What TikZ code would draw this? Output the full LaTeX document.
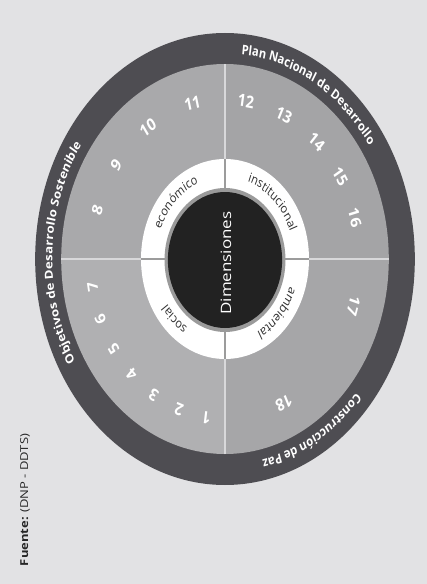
\documentclass[tikz,border=0pt]{standalone}
\usepackage{fontspec}
\setmainfont{Open Sans}
\usetikzlibrary{decorations.text}
\definecolor{bg}{HTML}{E2E2E4}
\definecolor{ringc}{HTML}{4E4D52}
\definecolor{qa}{HTML}{A9A9AB}
\definecolor{qb}{HTML}{A4A4A6}
\definecolor{qc}{HTML}{B0B0B2}
\definecolor{qd}{HTML}{A6A6A8}
\definecolor{core}{HTML}{222222}
\definecolor{corering}{HTML}{9A9A9A}
\definecolor{divl}{HTML}{D8D8DA}
\definecolor{divw}{HTML}{9C9C9C}
\definecolor{dimtext}{HTML}{2E2E2E}
\newcommand{\ringfont}{\color{white}\fontsize{13.3}{14}\selectfont\bfseries}
\newcommand{\dimfont}{\color{dimtext}\fontsize{13}{13}\selectfont}
\begin{document}
\begin{tikzpicture}[x=1pt,y=1pt,
  num/.style={text=white, font=\fontsize{17}{17}\selectfont\bfseries, inner sep=0pt},
  arctext/.style={decorate, decoration={text along path, text align=center, text format delimiters={|}{|}, text={#1}}},
  divider/.style={divl, line width=1.3pt},
  wdivider/.style={divw, line width=2.8pt}]
\useasboundingbox (-225,-325) rectangle (202,259);
\fill[bg] (-225,-325) rectangle (202,259);
\begin{scope}[transform canvas={xscale=0.84}]
% outer dark ring
\fill[ringc] (0,0) circle[radius=226pt];
% quadrants
\fill[qb] (0,0) -- (195pt,0) arc[start angle=0,end angle=90,radius=195pt] -- cycle;
\fill[qa] (0,0) -- (0,195pt) arc[start angle=90,end angle=180,radius=195pt] -- cycle;
\fill[qc] (0,0) -- (-195pt,0) arc[start angle=180,end angle=270,radius=195pt] -- cycle;
\fill[qd] (0,0) -- (0,-195pt) arc[start angle=270,end angle=360,radius=195pt] -- cycle;
\draw[divider] (0,-195) -- (0,195);
\draw[divider] (-195,0) -- (195,0);
% white ring
\fill[white] (0,0) circle[radius=100pt];
\draw[wdivider] (0,-100) -- (0,100);
\draw[wdivider] (-100,0) -- (100,0);
% core
\fill[corering] (0,-1) circle[radius=72pt];
\fill[core] (0,-1) circle[radius=68pt];
\node[rotate=90, text=white, font=\fontsize{17}{17}\selectfont] (dim) at (1,-4) {Dimensiones};
% ring texts
\path[arctext={|\ringfont|Plan Nacional de Desarrollo}] (102:205.5pt) arc[start angle=102, end angle=16, radius=205.5pt];
\path[arctext={|\ringfont|Objetivos de Desarrollo Sostenible}] (245:205.5pt) arc[start angle=245, end angle=111, radius=205.5pt];
\path[arctext={|\ringfont|Construcción de Paz}] (-12:205.5pt) arc[start angle=-12, end angle=-106, radius=205.5pt];
% white ring texts
\path[arctext={|\dimfont|económico}] (180:82pt) arc[start angle=180, end angle=92, radius=82pt];
\path[arctext={|\dimfont|institucional}] (88:82pt) arc[start angle=88, end angle=2, radius=82pt];
\path[arctext={|\dimfont|ambiental}] (-2:82pt) arc[start angle=-2, end angle=-80, radius=82pt];
\path[arctext={|\dimfont|social}] (-98:82pt) arc[start angle=-98, end angle=-172, radius=82pt];
% numbers
\foreach \n/\a in {1/262,2/250,3/238,4/226,5/214,6/202,7/190,8/162,9/144,10/125,11/104,12/81,13/64,14/47,15/31,16/15,17/-17,18/-64}
  \node[num, rotate=\a-90] (n\n) at (\a:160pt) {\n};
% source
\node[rotate=90, font=\fontsize{13}{13}\selectfont, text=black!85] (src) at (-238,-241) {\textbf{Fuente:} (DNP - DDTS)};
\end{scope}
\end{tikzpicture}
\end{document}
